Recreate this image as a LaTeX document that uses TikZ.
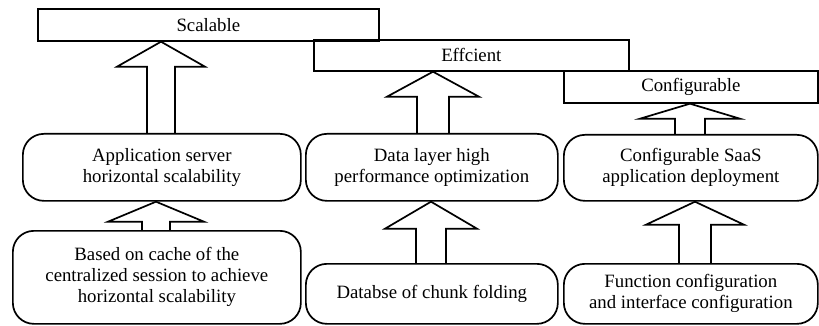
\documentclass[tikz,border=0pt]{standalone}
\usepackage{fontspec}
\setmainfont{Liberation Serif}
\usetikzlibrary{calc}
\tikzset{
  lbl/.style={draw, line width=1.7pt, anchor=north west, inner sep=0pt, align=center,
    font=\fontsize{18.8}{21}\selectfont},
  flatbox/.style={lbl},
  roundbox/.style={lbl, rounded corners=21pt},
  barrow/.style={draw, line width=1.7pt, line join=miter},
}
\newcommand{\blockarrow}[6]{%
  \draw[barrow] let \p1=(#1.north), \p2=(#2.south) in
   (#3pt-#4pt,\y1) -- (#3pt-#4pt,\y2-#6pt) -- (#3pt-#5pt,\y2-#6pt) -- (#3pt,\y2)
   -- (#3pt+#5pt,\y2-#6pt) -- (#3pt+#4pt,\y2-#6pt) -- (#3pt+#4pt,\y1);}
\begin{document}
\begin{tikzpicture}[x=1pt,y=-1pt]
\useasboundingbox (0,0) rectangle (819,326);
\node[flatbox, minimum width=341pt, minimum height=32pt] (scal) at (37,8) {Scalable};
\node[flatbox, minimum width=315pt, minimum height=31pt] (eff) at (313,39) {Effcient};
\node[flatbox, minimum width=254pt, minimum height=32pt] (conf) at (563,70) {Configurable};
\node[roundbox, minimum width=278pt, minimum height=67pt] (app) at (22,133) {Application server\\horizontal scalability};
\node[roundbox, minimum width=252pt, minimum height=67pt] (data) at (305,133) {Data layer high\\performance optimization};
\node[roundbox, minimum width=254pt, minimum height=66pt] (saas) at (563,134) {Configurable SaaS\\application deployment};
\node[roundbox, minimum width=288pt, minimum height=93pt] (cache) at (12,230) {Based on cache of the\\centralized session to achieve\\horizontal scalability};
\node[roundbox, minimum width=252pt, minimum height=60pt] (chunk) at (305,263) {Databse of chunk folding};
\node[roundbox, minimum width=254pt, minimum height=60pt] (func) at (563,263) {Function configuration\\and interface configuration};
\blockarrow{app}{scal}{161}{14}{44}{25}
\blockarrow{data}{eff}{433}{16}{46}{25}
\blockarrow{saas}{conf}{690}{15}{50}{15}
\blockarrow{cache}{app}{156}{14}{48}{20}
\blockarrow{chunk}{data}{431}{15}{46}{27}
\blockarrow{func}{saas}{695}{16}{49}{23}
\end{tikzpicture}
\end{document}
